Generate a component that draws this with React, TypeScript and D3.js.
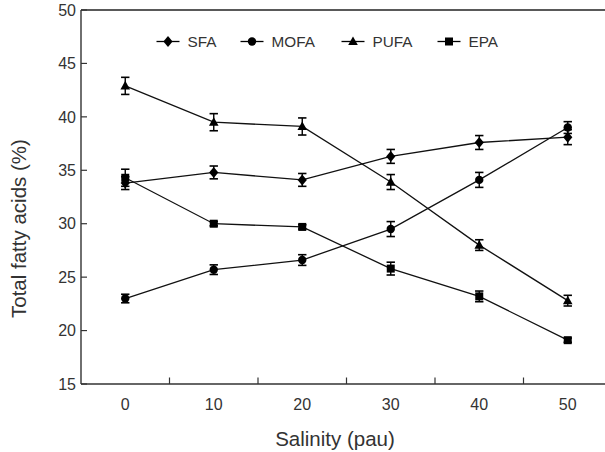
import React from 'react';
import * as d3 from 'd3';

// salinity levels (pau)
const salinity = [0, 10, 20, 30, 40, 50];

// fatty acid composition, % of total fatty acids (mean and error)
const sfa = [33.8, 34.8, 34.1, 36.3, 37.6, 38.1];
const sfaErr = [0.6, 0.6, 0.6, 0.65, 0.65, 0.7];
const mofa = [23.0, 25.7, 26.6, 29.5, 34.1, 39.0];
const mofaErr = [0.4, 0.45, 0.5, 0.7, 0.7, 0.55];
const pufa = [42.9, 39.5, 39.1, 33.9, 28.0, 22.8];
const pufaErr = [0.8, 0.8, 0.8, 0.7, 0.5, 0.5];
const epa = [34.3, 30.0, 29.7, 25.8, 23.2, 19.1];
const epaErr = [0.8, 0.2, 0.2, 0.6, 0.5, 0.2];

const yTicks = [15, 20, 25, 30, 35, 40, 45, 50];
const xLabels = [0, 10, 20, 30, 40, 50];
const xMinorTicks = [5, 15, 25, 35, 45];

const series = [
  { name: 'SFA', values: sfa, err: sfaErr, shape: 'diamond' },
  { name: 'MOFA', values: mofa, err: mofaErr, shape: 'circle' },
  { name: 'PUFA', values: pufa, err: pufaErr, shape: 'triangle' },
  { name: 'EPA', values: epa, err: epaErr, shape: 'square' },
];

const legendX = [168, 252, 353, 449];

const W = 605;
const H = 452;
const left = 81;
const top = 10;
const bottom = 384;

const x = d3.scaleLinear().domain([-5, 55]).range([left, 612]);
const y = d3.scaleLinear().domain([15, 50]).range([bottom, top]);

const font = '"Liberation Sans", Arial, sans-serif';
const textColor = '#333';

function Marker({ shape, cx, cy }: { shape: string; cx: number; cy: number }) {
  if (shape === 'circle') return <circle cx={cx} cy={cy} r={4.2} fill="#000" />;
  if (shape === 'square') return <rect x={cx - 4} y={cy - 4} width={8} height={8} fill="#000" />;
  if (shape === 'triangle')
    return <path d={`M${cx},${cy - 5}L${cx + 4.8},${cy + 3.6}L${cx - 4.8},${cy + 3.6}Z`} fill="#000" />;
  return <path d={`M${cx},${cy - 5.5}L${cx + 4.6},${cy}L${cx},${cy + 5.5}L${cx - 4.6},${cy}Z`} fill="#000" />;
}

export default function App() {
  const line = d3.line<number>()
    .x((_, i) => x(salinity[i]))
    .y(d => y(d));

  return (
    <svg width={W} height={H} style={{ position: 'absolute', left: 0, top: 0 }}>
      <rect width={W} height={H} fill="#fff" />

      {/* frame */}
      <line x1={left} x2={W} y1={top} y2={top} stroke="#222" strokeWidth={1.6} />
      <line x1={left} x2={left} y1={top} y2={bottom} stroke="#333" strokeWidth={1.4} />
      <line x1={left} x2={W} y1={bottom} y2={bottom} stroke="#333" strokeWidth={1.4} />

      {/* y ticks */}
      {yTicks.map(t => (
        <g key={t}>
          <line x1={left} x2={left + 6} y1={y(t)} y2={y(t)} stroke="#333" strokeWidth={1.2} />
          <text x={76} y={y(t)} dy="0.36em" textAnchor="end" fontSize={16} fontFamily={font} fill={textColor}>
            {t}
          </text>
        </g>
      ))}

      {/* x ticks */}
      {xMinorTicks.map(t => (
        <line key={t} x1={x(t)} x2={x(t)} y1={bottom} y2={bottom - 6.5} stroke="#333" strokeWidth={1.2} />
      ))}
      {xLabels.map(t => (
        <text key={t} x={x(t)} y={409.5} textAnchor="middle" fontSize={16} fontFamily={font} fill={textColor}>
          {t}
        </text>
      ))}

      {/* axis titles */}
      <text x={335} y={446} textAnchor="middle" fontSize={20.5} fontFamily={font} fill={textColor}>
        Salinity (pau)
      </text>
      <text transform="translate(25.5,318) rotate(-90)" textAnchor="start" fontSize={20.5} fontFamily={font} fill={textColor}>
        Total fatty acids (%)
      </text>

      {/* series */}
      {series.map(s => (
        <g key={s.name}>
          <path d={line(s.values) || ''} fill="none" stroke="#111" strokeWidth={1.3} />
          {s.values.map((v, i) => {
            const cx = x(salinity[i]);
            const y1 = y(v + s.err[i]);
            const y2 = y(v - s.err[i]);
            return (
              <g key={i}>
                <line x1={cx} x2={cx} y1={y1} y2={y2} stroke="#000" strokeWidth={1.4} />
                <line x1={cx - 4.2} x2={cx + 4.2} y1={y1} y2={y1} stroke="#000" strokeWidth={1.6} />
                <line x1={cx - 4.2} x2={cx + 4.2} y1={y2} y2={y2} stroke="#000" strokeWidth={1.6} />
                <Marker shape={s.shape} cx={cx} cy={y(v)} />
              </g>
            );
          })}
        </g>
      ))}

      {/* legend */}
      {series.map((s, i) => (
        <g key={s.name}>
          <line x1={legendX[i] - 11.5} x2={legendX[i] + 11.5} y1={41.5} y2={41.5} stroke="#000" strokeWidth={1.3} />
          <Marker shape={s.shape} cx={legendX[i]} cy={41.5} />
          <text x={legendX[i] + 19.5} y={47} fontSize={15.3} fontFamily={font} fill={textColor}>
            {s.name}
          </text>
        </g>
      ))}
    </svg>
  );
}
